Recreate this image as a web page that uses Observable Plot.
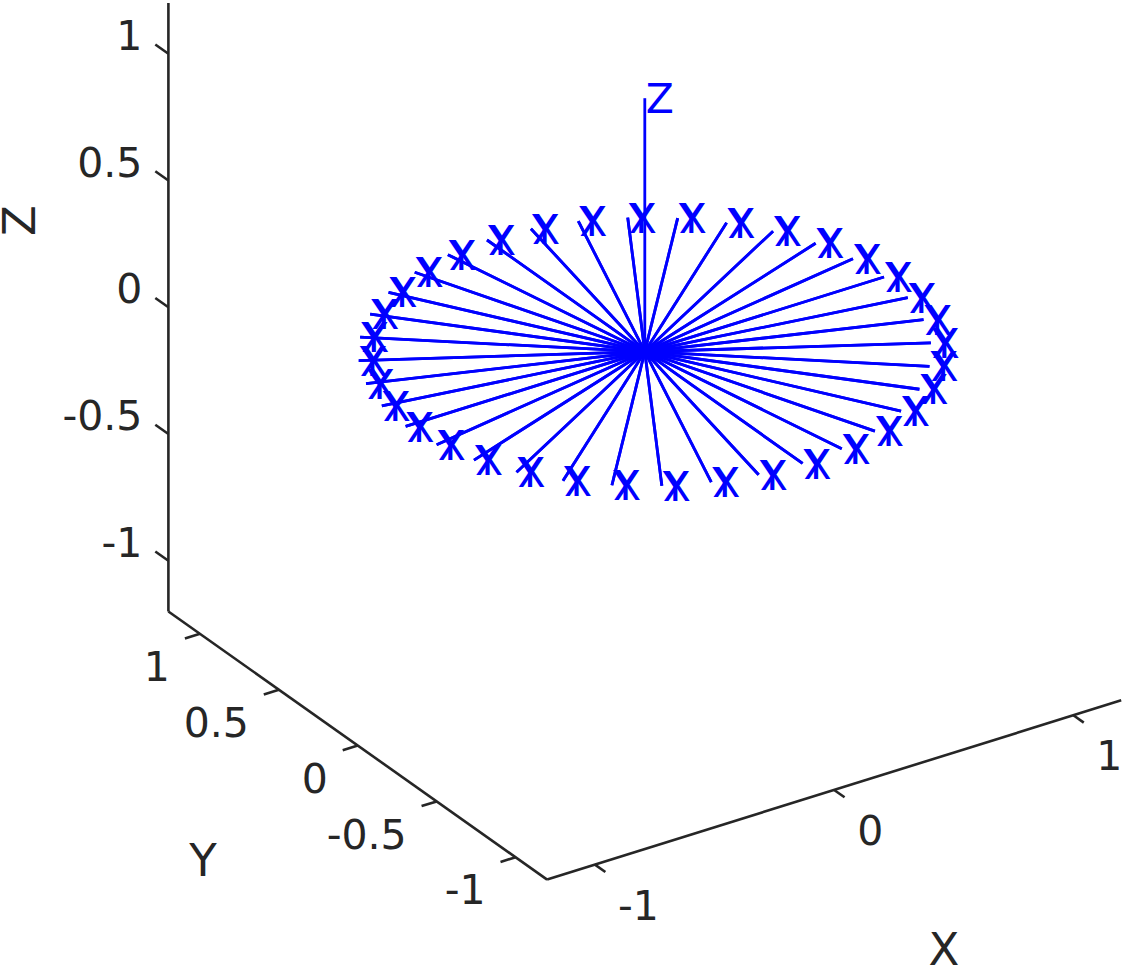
<!DOCTYPE html>
<html><head><meta charset="utf-8">
<script src="https://cdn.jsdelivr.net/npm/d3@7"></script>
<script src="https://cdn.jsdelivr.net/npm/@observablehq/plot@0.6"></script>
<style>html,body{margin:0;padding:0;background:#fff;} svg{display:block}</style>
</head><body><div id="chart"></div>
<script>
// ---- data ----
const angleDeg = [0,10,20,30,40,50,60,70,80,90,100,110,120,130,140,150,160,170,180,190,200,210,220,230,240,250,260,270,280,290,300,310,320,330,340,350];
const frameXLabel = "X";
const frameYLabel = "Y";
const frameZLabel = "Z";
const xTicks = [-1, 0, 1];
const xTickLabels = ["-1", "0", "1"];
const yTicks = [-1, -0.5, 0, 0.5, 1];
const yTickLabels = ["-1", "-0.5", "0", "0.5", "1"];
const zTicks = [-1, -0.5, 0, 0.5, 1];
const zTickLabels = ["-1", "-0.5", "0", "0.5", "1"];
const xLim = [-1.2, 1.2];
const yLim = [-1.2, 1.2];
const zLim = [-1.2, 1.2];
const axisTitles = ["X", "Y", "Z"];

// ---- 3D -> 2D view projection (screen px per data unit) ----
const W = 1124, H = 967;
const VX = [239.2, -74.7], VY = [-157.8, -111.7], VZ = [0, -253.5];
const origin = [644.3, 351.2];
const P = (x, y, z) => [x*VX[0] + y*VY[0] + z*VZ[0], x*VX[1] + y*VY[1] + z*VZ[1]];
const seg = (a, b) => ({x1: a[0], y1: a[1], x2: b[0], y2: b[1]});
const rad = d => d * Math.PI / 180;

const AXC = "#262626", BLUE = "#0000ff", FONT = "DejaVu Sans, sans-serif";

// axis box lines
const x0 = xLim[0], x1 = xLim[1], y0 = yLim[0], y1 = yLim[1], z0 = zLim[0], z1 = zLim[1];
const axisLines = [
  seg(P(x0, y1, z0), P(x0, y1, z1)),
  seg(P(x0, y1, z0), P(x0, y0, z0)),
  seg(P(x0, y0, z0), P(x1, y0, z0))
];
const ticks = [
  ...zTicks.map(z => seg(P(x0, y1, z), P(x0, y1 + 0.083, z))),
  ...yTicks.map(y => seg(P(x0, y, z0), P(x0 - 0.063, y, z0))),
  ...xTicks.map(x => seg(P(x, y0, z0), P(x, y0 - 0.066, z0)))
];
const zTL = zTicks.map((z, i) => { const p = P(x0, y1, z); return {x: p[0], y: p[1], t: zTickLabels[i]}; });
const yTL = yTicks.map((y, i) => { const p = P(x0, y, z0); return {x: p[0], y: p[1], t: yTickLabels[i]}; });
const xTL = xTicks.map((x, i) => { const p = P(x, y0, z0); return {x: p[0], y: p[1], t: xTickLabels[i]}; });

// rotating frames: X axis to (cos,sin,0), Y axis to (-sin,cos,0), Z axis to (0,0,1)
const O = P(0, 0, 0);
const spokes = [];
const labels = [];
for (const a of angleDeg) {
  const c = Math.cos(rad(a)), s = Math.sin(rad(a));
  const px = P(c, s, 0), py = P(-s, c, 0);
  spokes.push(seg(O, px), seg(O, py));
  labels.push({x: px[0], y: px[1], t: frameXLabel}, {x: py[0], y: py[1], t: frameYLabel});
}
const pz = P(0, 0, 1);
spokes.push(seg(O, pz));
labels.push({x: pz[0], y: pz[1], t: frameZLabel});

// axis titles (placed relative to the box, offset in px)
const pXT = P(0.3, y0, z0), pYT = P(x0, 0.55, z0), pZT = P(x0, y1, 0.35);
const titlesFlat = [
  {x: pXT[0] + 38, y: pXT[1] + 183, t: axisTitles[0]},
  {x: pYT[0] - 68, y: pYT[1] + 177, t: axisTitles[1]}
];
const titlesRot = [
  {x: pZT[0] - 148, y: pZT[1] + 2, t: axisTitles[2]}
];

const chart = Plot.plot({
  width: W, height: H,
  margin: 0,
  x: {domain: [-origin[0], W - origin[0]], range: [0, W], axis: null},
  y: {domain: [-origin[1], H - origin[1]], range: [0, H], axis: null},
  style: {background: "#fff", fontFamily: FONT},
  marks: [
    Plot.link(axisLines, {x1: "x1", y1: "y1", x2: "x2", y2: "y2", stroke: AXC, strokeWidth: 2.6}),
    Plot.link(ticks, {x1: "x1", y1: "y1", x2: "x2", y2: "y2", stroke: AXC, strokeWidth: 2.6}),
    Plot.text(zTL, {x: "x", y: "y", text: "t", textAnchor: "end", lineAnchor: "middle", dx: -26, dy: -17, fontSize: 41, fill: AXC, fontFamily: FONT}),
    Plot.text(yTL, {x: "x", y: "y", text: "t", textAnchor: "end", lineAnchor: "middle", dx: -30, dy: 34, fontSize: 41, fill: AXC, fontFamily: FONT}),
    Plot.text(xTL, {x: "x", y: "y", text: "t", textAnchor: "start", lineAnchor: "middle", dx: 23, dy: 42, fontSize: 41, fill: AXC, fontFamily: FONT}),
    Plot.text(titlesFlat, {x: "x", y: "y", text: "t", textAnchor: "middle", lineAnchor: "middle", fontSize: 45, fill: AXC, fontFamily: FONT}),
    Plot.text(titlesRot, {x: "x", y: "y", text: "t", rotate: -90, textAnchor: "middle", lineAnchor: "middle", fontSize: 45, fill: AXC, fontFamily: FONT}),
    Plot.link(spokes, {x1: "x1", y1: "y1", x2: "x2", y2: "y2", stroke: BLUE, strokeWidth: 2.8}),
    Plot.text(labels, {x: "x", y: "y", text: "t", textAnchor: "start", lineAnchor: "middle", dx: 1, dy: 2, fontSize: 41, fill: BLUE, fontFamily: FONT})
  ]
});
document.getElementById("chart").appendChild(chart);
</script>
</body></html>
